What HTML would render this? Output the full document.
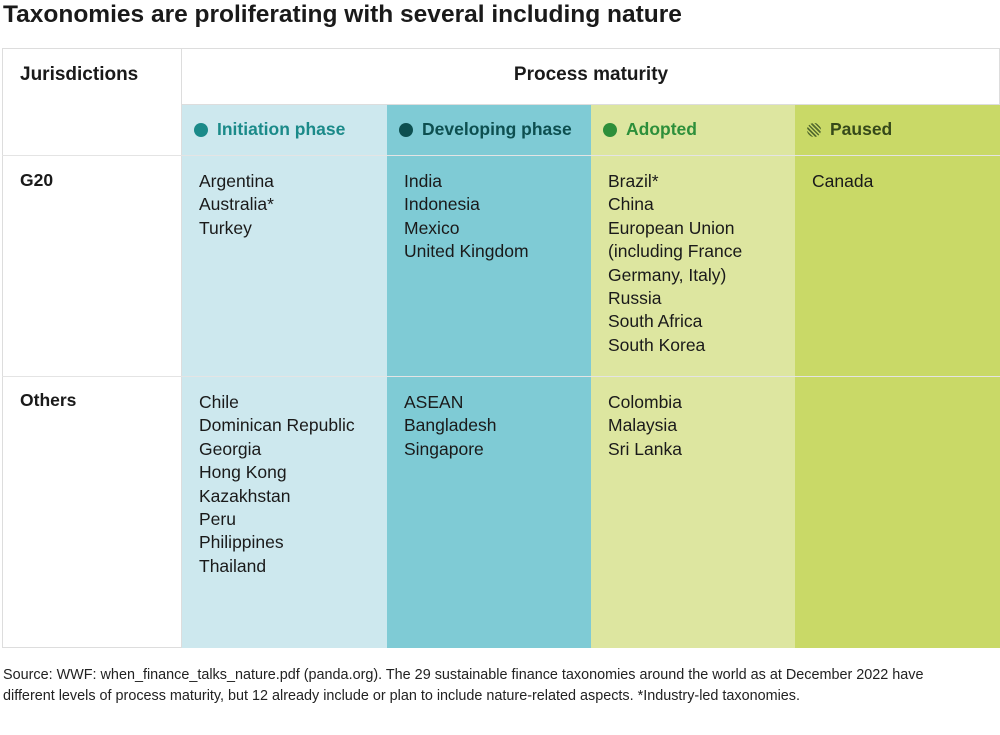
<!DOCTYPE html>
<html><head><meta charset="utf-8"><style>
body{margin:0;width:1000px;height:735px;background:#fff;font-family:"Liberation Sans",sans-serif;position:relative;overflow:hidden;color:#1a1a1a}
.abs{position:absolute}
.title{left:3px;top:1px;font-size:24.5px;font-weight:bold}
.cell{position:absolute;box-sizing:border-box}
.list{font-size:17.5px;line-height:23.4px;padding:14px 0 0 17px}
.hd{font-size:17.5px;font-weight:bold;padding:14px 0 0 12px;display:flex;align-items:center}
.dot{width:14px;height:14px;border-radius:50%;display:inline-block;margin-right:9px}
.src{left:3px;top:665px;font-size:14.4px;line-height:21px;color:#222}
</style></head><body>
<div class="abs title">Taxonomies are proliferating with several including nature</div>
<div class="cell" style="left:2px;top:48px;width:998px;height:600px;border:1px solid #ddd"></div>
<div class="cell" style="left:182px;top:105px;width:205px;height:543px;background:#cde8ee"></div>
<div class="cell" style="left:387px;top:105px;width:204px;height:543px;background:#7fcbd5"></div>
<div class="cell" style="left:591px;top:105px;width:204px;height:543px;background:#dde6a0"></div>
<div class="cell" style="left:795px;top:105px;width:205px;height:543px;background:#c9d967"></div>
<div class="cell" style="left:181px;top:48px;width:1px;height:600px;background:#ddd"></div>
<div class="cell" style="left:182px;top:104px;width:818px;height:1px;background:#ddd"></div>
<div class="cell" style="left:2px;top:155px;width:998px;height:1px;background:#e4e4e4"></div>
<div class="cell" style="left:2px;top:376px;width:998px;height:1px;background:#e4e4e4"></div>
<div class="cell hd" style="left:8px;top:48px;font-size:19px;padding-top:16px">Jurisdictions</div>
<div class="cell hd" style="left:182px;top:48px;width:818px;justify-content:center;font-size:19px;padding:16px 0 0 0">Process maturity</div>
<div class="cell hd" style="left:182px;top:105px;color:#1b8a89"><span class="dot" style="background:#1b8a89"></span>Initiation phase</div>
<div class="cell hd" style="left:387px;top:105px;color:#0d4f50"><span class="dot" style="background:#0d4f50"></span>Developing phase</div>
<div class="cell hd" style="left:591px;top:105px;color:#2d8f3a"><span class="dot" style="background:#2d8f3a"></span>Adopted</div>
<div class="cell hd" style="left:795px;top:105px;color:#36491a"><span class="dot" style="background:repeating-linear-gradient(45deg,#556b2f 0 1.5px,#c9d967 1.5px 3px)"></span>Paused</div>
<div class="cell hd" style="left:8px;top:156px;padding-top:14px">G20</div>
<div class="cell hd" style="left:8px;top:377px;padding-top:13px">Others</div>
<div class="cell list" style="left:182px;top:156px">Argentina<br>Australia*<br>Turkey</div>
<div class="cell list" style="left:387px;top:156px">India<br>Indonesia<br>Mexico<br>United Kingdom</div>
<div class="cell list" style="left:591px;top:156px">Brazil*<br>China<br>European Union<br>(including France<br>Germany, Italy)<br>Russia<br>South Africa<br>South Korea</div>
<div class="cell list" style="left:795px;top:156px">Canada</div>
<div class="cell list" style="left:182px;top:377px">Chile<br>Dominican Republic<br>Georgia<br>Hong Kong<br>Kazakhstan<br>Peru<br>Philippines<br>Thailand</div>
<div class="cell list" style="left:387px;top:377px">ASEAN<br>Bangladesh<br>Singapore</div>
<div class="cell list" style="left:591px;top:377px">Colombia<br>Malaysia<br>Sri Lanka</div>
<div class="abs src">Source: WWF: when_finance_talks_nature.pdf (panda.org). The 29 sustainable finance taxonomies around the world as at December 2022 have<br>different levels of process maturity, but 12 already include or plan to include nature-related aspects. *Industry-led taxonomies.</div>
</body></html>
